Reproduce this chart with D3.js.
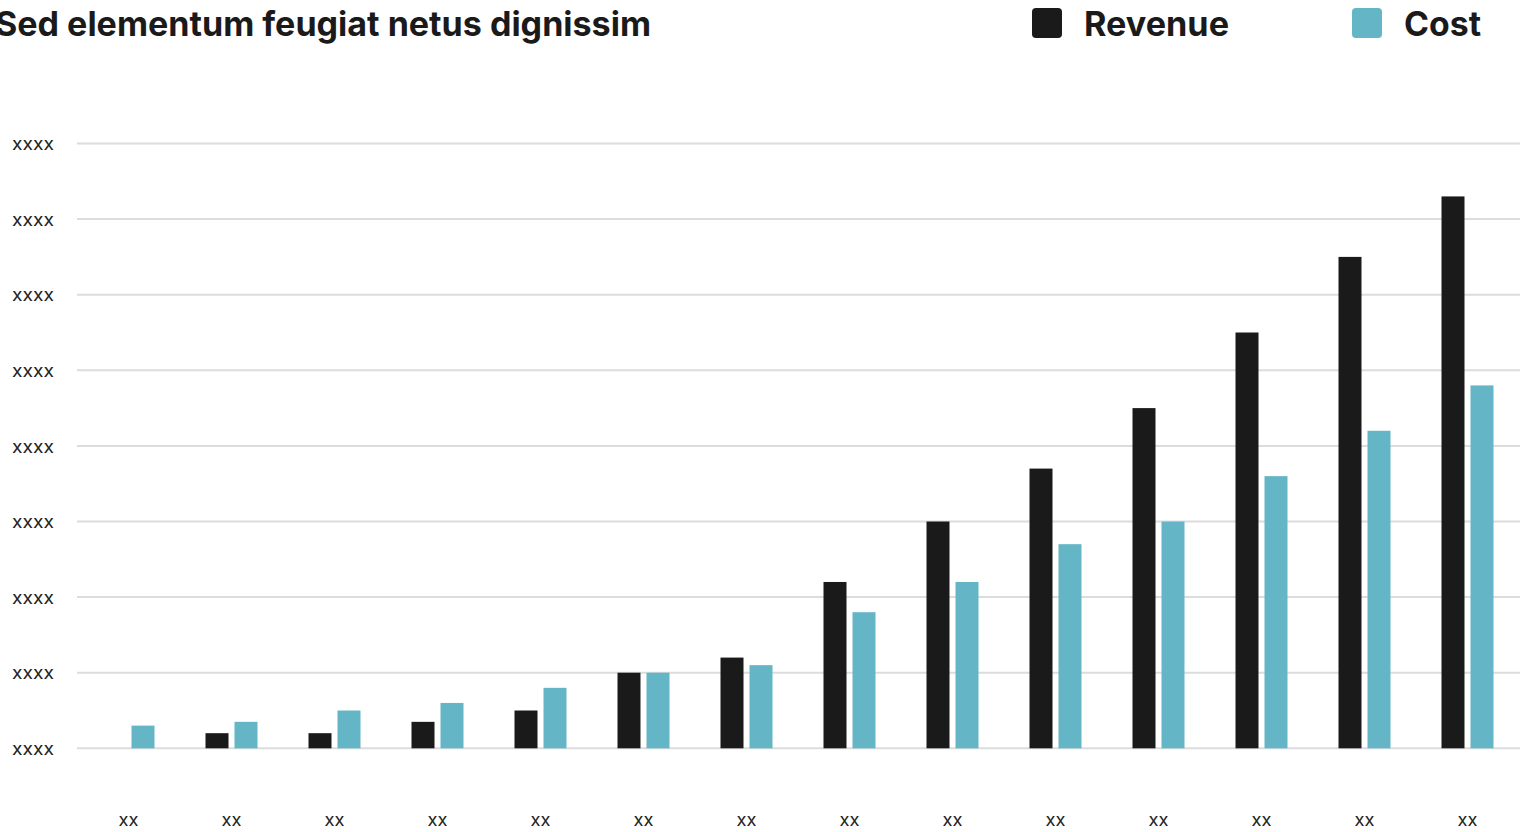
<!DOCTYPE html>
<html>
<head>
<meta charset="utf-8">
<script src="https://cdn.jsdelivr.net/npm/d3@7"></script>
<style>
  html, body { margin: 0; padding: 0; background: #fff; overflow: hidden; }
  svg { display: block; }
</style>
</head>
<body>
<svg id="chart"></svg>
<script>
const width = 1522;
const height = 832;

// data (gridline = 1000)
const categories = ["xx", "xx", "xx", "xx", "xx", "xx", "xx", "xx", "xx", "xx", "xx", "xx", "xx", "xx"];
const revenue = [0, 200, 200, 350, 500, 1000, 1200, 2200, 3000, 3700, 4500, 5500, 6500, 7300];
const cost = [300, 350, 500, 600, 800, 1000, 1100, 1800, 2200, 2700, 3000, 3600, 4200, 4800];
const yTicks = [0, 1000, 2000, 3000, 4000, 5000, 6000, 7000, 8000];
const yTickLabel = "xxxx";
const seriesNames = ["Revenue", "Cost"];
const colors = { Revenue: "#1b1a1b", Cost: "#64b6c7" };

const svg = d3.select("#chart").attr("width", width).attr("height", height);

const x0 = d3.scaleBand()
    .domain(d3.range(categories.length))
    .range([77, 1519]);

const x1 = d3.scaleBand()
    .domain(seriesNames)
    .range([0, 52])
    .paddingInner(0.2069);

const y = d3.scaleLinear()
    .domain([0, 8000])
    .range([748.3, 143.5]);

// gridlines
svg.append("g")
    .attr("class", "grid")
    .selectAll("line")
    .data(yTicks)
    .enter().append("line")
    .attr("x1", 77)
    .attr("x2", 1520)
    .attr("y1", d => y(d))
    .attr("y2", d => y(d))
    .attr("stroke", "#dcdcdc")
    .attr("stroke-width", 2);

// y labels
svg.append("g")
    .selectAll("text")
    .data(yTicks)
    .enter().append("text")
    .attr("x", 12)
    .attr("y", d => y(d) + 2)
    .attr("dominant-baseline", "middle")
    .attr("textLength", 42)
    .attr("lengthAdjust", "spacingAndGlyphs")
    .style("font-family", "Inter, 'DejaVu Sans', sans-serif")
    .style("font-size", "17px")
    .style("fill", "#222")
    .text(yTickLabel);

// bars
const rows = categories.map((c, i) => ({ i, Revenue: revenue[i], Cost: cost[i] }));

const groups = svg.append("g")
    .attr("class", "bars")
    .selectAll("g")
    .data(rows)
    .enter().append("g")
    .attr("transform", d => `translate(${x0(d.i) + x0.bandwidth() / 2 - 26},0)`);

groups.selectAll("rect")
    .data(d => seriesNames.map(k => ({ key: k, value: d[k] })))
    .enter().append("rect")
    .attr("x", d => x1(d.key))
    .attr("width", x1.bandwidth())
    .attr("y", d => y(d.value))
    .attr("height", d => y(0) - y(d.value))
    .attr("fill", d => colors[d.key]);

// x labels
svg.append("g")
    .selectAll("text")
    .data(categories)
    .enter().append("text")
    .attr("x", (d, i) => x0(i) + x0.bandwidth() / 2 - 10)
    .attr("y", 821)
    .attr("dominant-baseline", "middle")
    .attr("textLength", 20)
    .attr("lengthAdjust", "spacingAndGlyphs")
    .style("font-family", "Inter, 'DejaVu Sans', sans-serif")
    .style("font-size", "17px")
    .style("fill", "#222")
    .text(d => d);

// title (starts slightly off the left edge)
svg.append("text")
    .attr("x", -5)
    .attr("y", 36)
    .attr("textLength", 656)
    .attr("lengthAdjust", "spacingAndGlyphs")
    .style("font-family", "Inter, 'Noto Sans', sans-serif")
    .style("font-weight", 700)
    .style("font-size", "34px")
    .style("fill", "#1b1a1b")
    .text("Sed elementum feugiat netus dignissim");

// legend
const legendItems = [
    { name: "Revenue", x: 1032, w: 145 },
    { name: "Cost", x: 1352, w: 77 }
];
const legend = svg.append("g")
    .selectAll("g")
    .data(legendItems)
    .enter().append("g")
    .attr("transform", d => `translate(${d.x},8)`);

legend.append("rect")
    .attr("width", 30)
    .attr("height", 30)
    .attr("rx", 4)
    .attr("fill", d => colors[d.name]);

legend.append("text")
    .attr("x", 52)
    .attr("y", 28)
    .attr("textLength", d => d.w)
    .attr("lengthAdjust", "spacingAndGlyphs")
    .style("font-family", "Inter, 'Noto Sans', sans-serif")
    .style("font-weight", 700)
    .style("font-size", "34px")
    .style("fill", "#1b1a1b")
    .text(d => d.name);
</script>
</body>
</html>
